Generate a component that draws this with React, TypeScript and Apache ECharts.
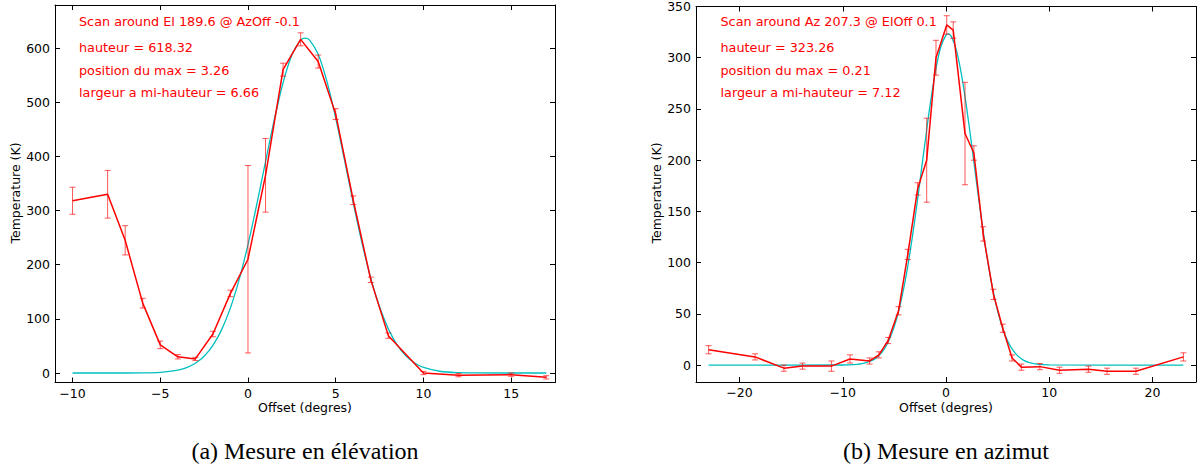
import React, { useEffect, useRef } from "react";
import * as echarts from "echarts";

// ---- Left panel: scan in elevation ----
const elX = [-10, -8, -7, -6, -5, -4, -3, -2, -1, 0, 1, 2, 3, 4, 5, 6, 7, 8, 10, 12, 15, 17];
const elY = [318, 330, 245, 129, 52, 30, 26, 72, 147, 210, 365, 560, 616, 575, 478, 319, 172, 69, 0, -4, -3, -8];
const elErr = [25, 44, 27, 9, 7, 4, 3, 5, 6, 173, 68, 12, 12, 12, 10, 8, 5, 5, 3, 3, 3, 3];
const elFitX = [-10, -8, -6, -5, -4, -3.5, -3, -2.5, -2, -1.5, -1, -0.5, 0, 0.5, 1, 1.5, 2, 2.5, 3, 3.26, 3.5, 4, 4.5, 5, 5.5, 6, 6.5, 7, 7.5, 8, 8.5, 9, 9.5, 10, 11, 12, 13, 17];
const elFitY = [0, 0, 0.3, 1.3, 5.3, 10.0, 18.0, 31.0, 51.0, 80.1, 120.3, 172.8, 237.1, 311.1, 390.1, 467.6, 535.8, 586.9, 614.6, 618.3, 615.1, 588.5, 538.3, 470.6, 393.3, 314.2, 239.9, 175.2, 122.2, 81.5, 52.0, 31.7, 18.5, 10.3, 2.8, 0.6, 0.1, 0];
const elXTicks = [-10, -5, 0, 5, 10, 15];
const elYTicks = [0, 100, 200, 300, 400, 500, 600];
const elTexts = [
  "Scan around El 189.6 @ AzOff -0.1",
  "hauteur = 618.32",
  "position du max = 3.26",
  "largeur a mi-hauteur = 6.66",
];

// ---- Right panel: scan in azimuth ----
const azX = [-23.0, -18.5, -15.7, -13.9, -11.1, -9.3, -7.4, -6.5, -5.6, -4.6, -3.7, -2.75, -1.87, -0.97, 0.07, 0.7, 1.84, 2.7, 3.6, 4.6, 5.5, 6.4, 7.3, 9.1, 11.0, 13.8, 15.6, 18.4, 23.0];
const azY = [15, 8, -3, -1, -1, 6, 4, 10, 24, 53, 108, 172, 200, 300, 332, 327, 226, 207, 128, 69, 36, 7, -2, -1.5, -5, -4, -6, -6, 8];
const azErr = [4, 3, 3, 3, 5, 4, 3, 3, 3, 4, 5, 6, 41, 17, 9, 8, 50, 7, 7, 5, 4, 3, 3, 3, 3, 3, 3, 3, 4];
const azFitX = [-23, -10, -9, -8, -7, -6.5, -6, -5.5, -5, -4.5, -4, -3.5, -3, -2.5, -2, -1.5, -1, -0.5, 0, 0.21, 0.5, 1, 1.5, 2, 2.5, 3, 3.5, 4, 4.5, 5, 5.5, 6, 6.5, 7, 7.5, 8, 9, 10, 23];
const azFitY = [0, 0.1, 0.4, 1.6, 5.3, 9.3, 15.4, 24.7, 38.0, 56.2, 79.8, 109.1, 143.4, 181.1, 219.9, 256.6, 288.0, 310.7, 322.1, 323.3, 321.1, 307.7, 283.5, 251.1, 213.7, 174.9, 137.6, 104.1, 75.7, 52.9, 35.5, 22.9, 14.3, 8.5, 4.9, 2.7, 0.7, 0.2, 0];
const azXTicks = [-20, -10, 0, 10, 20];
const azYTicks = [0, 50, 100, 150, 200, 250, 300, 350];
const azTexts = [
  "Scan around Az 207.3 @ ElOff 0.1",
  "hauteur = 323.26",
  "position du max = 0.21",
  "largeur a mi-hauteur = 7.12",
];

const xTitle = "Offset (degres)";
const yTitle = "Temperature (K)";
const captions = ["(a) Mesure en élévation", "(b) Mesure en azimut"];

const RED = "#ff0000";
const CYAN = "#00bfbf";
const SANS = '"DejaVu Sans", sans-serif';

const fmt = (v: number) => (v < 0 ? "\u2212" + Math.abs(v) : String(v));

function xAxes(grid: number, min: number, max: number, ticks: number[]) {
  const base = {
    gridIndex: grid,
    type: "value",
    min,
    max,
    splitLine: { show: false },
    axisLine: { show: true, onZero: false, lineStyle: { color: "#000", width: 1 } },
  };
  return [
    {
      ...base,
      position: "bottom",
      axisTick: { show: true, inside: true, length: 5, customValues: ticks, lineStyle: { color: "#000" } },
      axisLabel: { show: true, customValues: ticks, formatter: fmt, color: "#000", fontSize: 12.5, fontFamily: SANS, margin: 4 },
    },
    {
      ...base,
      position: "top",
      axisTick: { show: true, inside: true, length: 5, customValues: ticks, lineStyle: { color: "#000" } },
      axisLabel: { show: false },
    },
  ];
}

function yAxes(grid: number, min: number, max: number, ticks: number[]) {
  const base = {
    gridIndex: grid,
    type: "value",
    min,
    max,
    splitLine: { show: false },
    axisLine: { show: true, onZero: false, lineStyle: { color: "#000", width: 1 } },
  };
  return [
    {
      ...base,
      position: "left",
      axisTick: { show: true, inside: true, length: 5, customValues: ticks, lineStyle: { color: "#000" } },
      axisLabel: { show: true, customValues: ticks, formatter: fmt, color: "#000", fontSize: 12.5, fontFamily: SANS, margin: 5 },
    },
    {
      ...base,
      position: "right",
      axisTick: { show: true, inside: true, length: 5, customValues: ticks, lineStyle: { color: "#000" } },
      axisLabel: { show: false },
    },
  ];
}

function errorSeries(axisIdx: number, xs: number[], ys: number[], es: number[]) {
  return {
    type: "custom",
    xAxisIndex: axisIdx,
    yAxisIndex: axisIdx,
    z: 3,
    data: xs.map((x, i) => [x, ys[i], es[i]]),
    encode: { x: 0, y: 1 },
    renderItem: (params: any, api: any) => {
      const x = api.value(0);
      const y = api.value(1);
      const e = api.value(2);
      const top = api.coord([x, y + e]);
      const bot = api.coord([x, y - e]);
      const cap = 3;
      const style = { stroke: "rgba(255,0,0,0.65)", lineWidth: 1 };
      return {
        type: "group",
        children: [
          { type: "line", shape: { x1: top[0], y1: top[1], x2: bot[0], y2: bot[1] }, style },
          { type: "line", shape: { x1: top[0] - cap, y1: top[1], x2: top[0] + cap, y2: top[1] }, style },
          { type: "line", shape: { x1: bot[0] - cap, y1: bot[1], x2: bot[0] + cap, y2: bot[1] }, style },
        ],
      };
    },
  };
}

function fitSeries(axisIdx: number, xs: number[], ys: number[]) {
  return {
    type: "line",
    xAxisIndex: axisIdx,
    yAxisIndex: axisIdx,
    z: 2,
    data: xs.map((x, i) => [x, ys[i]]),
    smooth: 0.3,
    showSymbol: false,
    symbol: "none",
    lineStyle: { color: CYAN, width: 1.3 },
  };
}

function dataSeries(axisIdx: number, xs: number[], ys: number[]) {
  return {
    type: "line",
    xAxisIndex: axisIdx,
    yAxisIndex: axisIdx,
    z: 4,
    data: xs.map((x, i) => [x, ys[i]]),
    showSymbol: false,
    symbol: "none",
    lineStyle: { color: RED, width: 1.5 },
  };
}

function annot(x0: number, lines: string[]) {
  const ys = [21.5, 47.5, 70, 92.5];
  return lines.map((t, i) => ({
    type: "text",
    x: x0,
    y: ys[i],
    style: { text: t, fill: RED, font: `12.8px ${SANS}`, verticalAlign: "middle", align: "left" },
  }));
}

export default function App() {
  const ref = useRef<HTMLDivElement>(null);
  useEffect(() => {
    if (!ref.current) return;
    const chart = echarts.init(ref.current, undefined, { renderer: "svg" });
    const option: any = {
      animation: false,
      backgroundColor: "#ffffff",
      grid: [
        { left: 55, top: 5, width: 500, height: 377.5 },
        { left: 696, top: 5, width: 500, height: 377 },
      ],
      xAxis: [...xAxes(0, -11, 17.5, elXTicks), ...xAxes(1, -24.22, 24.22, azXTicks)],
      yAxis: [...yAxes(0, -17.5, 679.4, elYTicks), ...yAxes(1, -16.5, 350, azYTicks)],
      series: [
        fitSeries(0, elFitX, elFitY),
        errorSeries(0, elX, elY, elErr),
        dataSeries(0, elX, elY),
        fitSeries(2, azFitX, azFitY),
        errorSeries(2, azX, azY, azErr),
        dataSeries(2, azX, azY),
      ],
      graphic: [
        ...annot(79, elTexts),
        ...annot(720.5, azTexts),
        { type: "text", x: 305, y: 407, style: { text: xTitle, fill: "#000", font: `12.5px ${SANS}`, align: "center", verticalAlign: "middle" } },
        { type: "text", x: 946, y: 407, style: { text: xTitle, fill: "#000", font: `12.5px ${SANS}`, align: "center", verticalAlign: "middle" } },
        { type: "text", x: 15, y: 193, rotation: Math.PI / 2, style: { text: yTitle, fill: "#000", font: `12.5px ${SANS}`, align: "center", verticalAlign: "middle" } },
        { type: "text", x: 656, y: 193, rotation: Math.PI / 2, style: { text: yTitle, fill: "#000", font: `12.5px ${SANS}`, align: "center", verticalAlign: "middle" } },
        { type: "text", x: 305, y: 451, style: { text: captions[0], fill: "#000", font: '24px "Liberation Serif", serif', align: "center", verticalAlign: "middle" } },
        { type: "text", x: 946, y: 451, style: { text: captions[1], fill: "#000", font: '24px "Liberation Serif", serif', align: "center", verticalAlign: "middle" } },
      ],
    };
    chart.setOption(option);
    return () => chart.dispose();
  }, []);
  return (
    <div
      ref={ref}
      style={{ position: "fixed", left: 0, top: 0, width: 1200, height: 468, background: "#fff" }}
    />
  );
}
